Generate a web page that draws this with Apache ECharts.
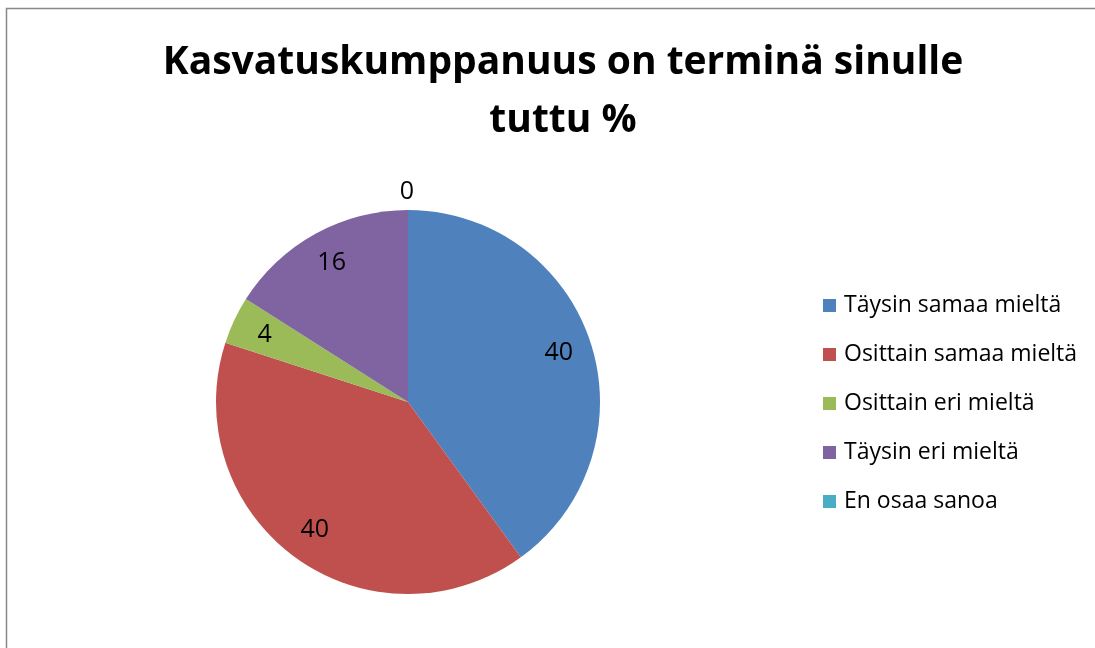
<!DOCTYPE html>
<html>
<head>
<meta charset="utf-8">
<script src="https://cdn.jsdelivr.net/npm/echarts@6/dist/echarts.min.js"></script>
<style>
html,body{margin:0;padding:0;background:#fff;}
#chart{width:1095px;height:648px;}
</style>
</head>
<body>
<div id="chart"></div>
<script>
const titleText = 'Kasvatuskumppanuus on terminä sinulle\ntuttu %';
const categories = ['Täysin samaa mieltä', 'Osittain samaa mieltä', 'Osittain eri mieltä', 'Täysin eri mieltä', 'En osaa sanoa'];
const values = [40, 40, 4, 16, 0];
const colors = ['#4F81BD', '#C0504D', '#9BBB59', '#8064A2', '#4BACC6'];

const FONT = '"Open Sans", "DejaVu Sans", sans-serif';
const cx = 408, cy = 402, R = 192;

const pieData = categories.map((c, i) => ({ name: c, value: values[i], itemStyle: { color: colors[i] } }));
const labelData = categories.map((c, i) => {
  const d = { name: c, value: values[i] };
  if (values[i] === 0) {
    d.label = { position: 'outside', offset: [11, -10] };
    d.labelLine = { show: false, length: 8, length2: 0 };
  }
  return d;
});

const chart = echarts.init(document.getElementById('chart'), null, { renderer: 'canvas' });
chart.setOption({
  animation: false,
  backgroundColor: '#ffffff',
  title: {
    text: titleText,
    left: 558,
    textAlign: 'center',
    top: 29,
    textStyle: { fontFamily: FONT, fontWeight: 'bold', fontSize: 39, lineHeight: 58, color: '#000' }
  },
  legend: {
    orient: 'vertical',
    left: 823,
    top: 294,
    padding: 0,
    itemWidth: 13,
    itemHeight: 13,
    itemGap: 26,
    icon: 'rect',
    data: categories,
    textStyle: { fontFamily: FONT, fontSize: 23, lineHeight: 23, color: '#000', padding: [0, 0, 0, 3] },
    selectedMode: false
  },
  graphic: [{
    type: 'rect',
    shape: { x: 6.5, y: 8.5, width: 1200, height: 1000 },
    style: { fill: null, stroke: '#888888', lineWidth: 1.5 },
    silent: true, z: -10
  }],
  series: [
    {
      type: 'pie',
      center: [cx, cy],
      radius: [0, R],
      startAngle: 90,
      clockwise: true,
      data: pieData,
      label: { show: false },
      labelLine: { show: false },
      itemStyle: { borderWidth: 0 },
      silent: true
    },
    {
      type: 'pie',
      center: [cx, cy],
      radius: [R * 0.62, R],
      startAngle: 90,
      clockwise: true,
      data: labelData,
      itemStyle: { color: 'rgba(0,0,0,0)', borderWidth: 0 },
      label: { show: true, position: 'inside', formatter: '{c}', fontFamily: FONT, fontSize: 25, color: '#000' },
      labelLine: { show: false },
      silent: true,
      z: 5
    }
  ]
});
</script>
</body>
</html>
